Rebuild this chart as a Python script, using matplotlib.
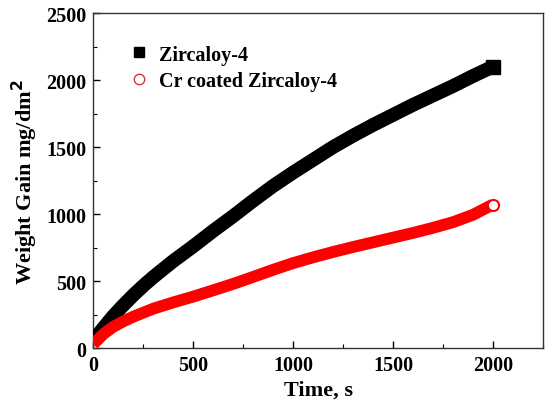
import matplotlib
matplotlib.use("Agg")
import matplotlib.pyplot as plt
from matplotlib.lines import Line2D

time_s = [0, 50, 100, 150, 200, 250, 300, 400, 500, 600, 700, 800, 900, 1000,
          1100, 1200, 1300, 1400, 1500, 1600, 1700, 1800, 1900, 2000]
zircaloy = [55, 150, 240, 320, 395, 465, 530, 650, 760, 875, 985, 1100, 1210, 1310,
            1405, 1500, 1585, 1665, 1740, 1815, 1885, 1955, 2030, 2100]
cr_coated = [30, 105, 160, 200, 235, 265, 295, 342, 385, 432, 480, 532, 585, 635,
             678, 718, 755, 790, 825, 860, 898, 940, 995, 1072]
series_names = ["Zircaloy-4", "Cr coated Zircaloy-4"]
x_ticks = [0, 500, 1000, 1500, 2000]
y_ticks = [0, 500, 1000, 1500, 2000, 2500]

plt.rcParams['font.family'] = ['Liberation Serif', 'DejaVu Serif']
plt.rcParams['font.weight'] = 'bold'

fig = plt.figure(figsize=(5.45, 4.06), dpi=100)
ax = fig.add_axes([0.171, 0.1397, 0.825, 0.8258])

ax.plot(time_s, zircaloy, color='black', lw=10, solid_capstyle='butt',
        solid_joinstyle='round', zorder=3)
ax.plot(time_s[-1:], zircaloy[-1:], ls='none', marker='s', ms=9.5,
        color='black', zorder=4)
ax.plot(time_s, cr_coated, color='#ff0000', lw=8.5, solid_capstyle='butt',
        solid_joinstyle='round', zorder=3)
ax.plot(time_s[-1:], cr_coated[-1:], ls='none', marker='o', ms=8,
        mfc='white', mec='#ff0000', mew=1.5, zorder=4)

handles = [
    Line2D([], [], ls='none', marker='s', ms=7.5, color='black'),
    Line2D([], [], ls='none', marker='o', ms=7.5, mfc='white', mec='#e03030', mew=1.0),
]
ax.legend(handles, series_names, loc='upper left', bbox_to_anchor=(0.062, 0.93),
          frameon=False, fontsize=14.5, handletextpad=0.5, labelspacing=0.3,
          handlelength=1.0, borderaxespad=0)

ax.set_xlim(0, 2247)
ax.set_ylim(0, 2500)
ax.set_xticks(x_ticks)
ax.set_yticks(y_ticks)
ax.set_xticks([250, 750, 1250, 1750, 2250], minor=True)
ax.set_yticks([250, 750, 1250, 1750, 2250], minor=True)
ax.tick_params(which='major', direction='in', length=5, width=1.0,
               labelsize=14.5, top=False, right=False, pad=5)
ax.tick_params(which='minor', direction='in', length=3, width=0.8,
               top=False, right=False)
for lab in ax.get_xticklabels() + ax.get_yticklabels():
    lab.set_fontweight('bold')
for sp in ax.spines.values():
    sp.set_linewidth(1.0)
    sp.set_color('#333333')

ax.set_xlabel('Time, s', fontsize=16, fontweight='bold', labelpad=3)
ax.set_ylabel('Weight Gain mg/dm$^\\mathbf{2}$', fontsize=16, fontweight='bold', labelpad=4)

fig.savefig('out.png', dpi=100)
